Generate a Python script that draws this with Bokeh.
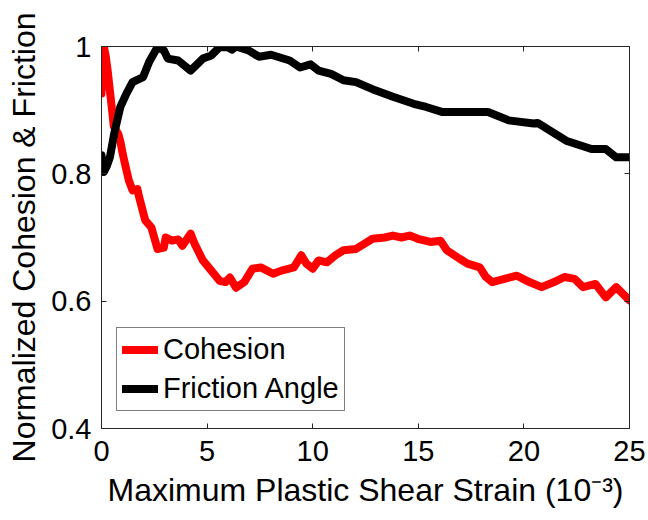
from bokeh.plotting import figure
from bokeh.models import (LinearAxis, FixedTicker, CustomJSTickFormatter, Legend,
                          LegendItem, Range1d)
from bokeh.embed import file_html
from bokeh.resources import INLINE

# ---- data ----
strain_cohesion = [0.0, 0.05, 0.11, 0.2, 0.3, 0.4, 0.5, 0.58, 0.66, 0.8, 0.9, 1.0,
                   1.15, 1.29, 1.47, 1.7, 1.77, 2.07, 2.36, 2.65, 2.95, 3.04, 3.34,
                   3.63, 3.83, 4.22, 4.41, 4.8, 5.2, 5.59, 5.87, 6.08, 6.37, 6.76,
                   7.15, 7.54, 8.13, 8.52, 9.11, 9.46, 9.7, 10.0, 10.28, 10.67,
                   11.07, 11.46, 12.05, 12.44, 12.83, 13.41, 13.8, 14.2, 14.59,
                   14.98, 15.57, 16.05, 16.35, 16.94, 17.33, 17.91, 18.2, 18.5,
                   19.08, 19.67, 20.26, 20.84, 21.43, 21.92, 22.4, 22.8, 23.39,
                   23.88, 24.37, 25.0]
cohesion = [0.926, 0.97, 1.0, 0.985, 0.96, 0.93, 0.9, 0.875, 0.87, 0.862, 0.85, 0.832,
            0.81, 0.79, 0.774, 0.776, 0.765, 0.727, 0.716, 0.682, 0.684, 0.70, 0.695,
            0.697, 0.687, 0.706, 0.69, 0.664, 0.648, 0.632, 0.63, 0.637, 0.621, 0.63,
            0.651, 0.653, 0.643, 0.648, 0.653, 0.672, 0.659, 0.651, 0.664, 0.661,
            0.672, 0.68, 0.682, 0.69, 0.698, 0.70, 0.703, 0.70, 0.703, 0.698, 0.693,
            0.695, 0.68, 0.667, 0.659, 0.653, 0.638, 0.63, 0.635, 0.64, 0.63, 0.622,
            0.63, 0.638, 0.635, 0.622, 0.627, 0.606, 0.622, 0.601]

strain_friction = [0.0, 0.11, 0.25, 0.4, 0.6, 0.89, 1.18, 1.47, 1.97, 2.26, 2.65,
                   2.95, 3.14, 3.63, 4.22, 4.8, 5.2, 5.59, 5.97, 6.17, 6.37, 6.96,
                   7.45, 8.03, 8.91, 9.4, 9.9, 10.28, 10.87, 11.46, 12.05, 12.83,
                   13.8, 14.78, 15.37, 16.15, 17.33, 18.3, 19.28, 20.46, 20.65,
                   22.0, 23.2, 23.88, 24.37, 25.0]
friction = [0.829, 0.803, 0.812, 0.826, 0.863, 0.905, 0.926, 0.944, 0.952, 0.976,
            0.999, 0.994, 0.981, 0.978, 0.962, 0.981, 0.986, 0.999, 0.999, 0.995,
            1.0, 0.994, 0.984, 0.987, 0.978, 0.967, 0.972, 0.962, 0.957, 0.947,
            0.944, 0.933, 0.921, 0.91, 0.905, 0.897, 0.897, 0.897, 0.884, 0.879,
            0.88, 0.852, 0.839, 0.839, 0.826, 0.826]

x_ticks = [0, 5, 10, 15, 20, 25]
y_ticks = [0.4, 0.6, 0.8, 1.0]
series_names = ["Cohesion", "Friction Angle"]
x_label = "Maximum Plastic Shear Strain (10\u207b\u00b3)"
y_label = "Normalized Cohesion & Friction"

FONT = "Liberation Sans"
AX = "#262626"

p = figure(width=648, height=520, output_backend="svg", toolbar_location=None,
           x_range=Range1d(0, 25), y_range=Range1d(0.4, 1.0),
           min_border_left=101, min_border_right=19, min_border_top=46,
           min_border_bottom=92)
p.background_fill_color = "white"
p.border_fill_color = "white"
p.outline_line_color = None
p.xgrid.visible = False
p.ygrid.visible = False

r_coh = p.line(strain_cohesion, cohesion, line_color="#ff0000", line_width=8,
               line_join="round", line_cap="round")
r_fri = p.line(strain_friction, friction, line_color="black", line_width=8,
               line_join="round", line_cap="round")

yfmt = CustomJSTickFormatter(code="return tick > 0.999 ? '1' : tick.toFixed(1);")
blank = CustomJSTickFormatter(code="return '';")

def style(ax, ticks, fmt, labels=True):
    ax.ticker = FixedTicker(ticks=ticks)
    ax.formatter = fmt
    ax.axis_line_color = AX
    ax.axis_line_width = 1
    ax.major_tick_line_color = AX
    ax.major_tick_in = 5
    ax.major_tick_out = 0
    ax.minor_tick_line_color = None
    ax.major_label_text_font = FONT
    ax.major_label_text_color = "black"
    if labels:
        ax.major_label_text_font_size = "29px"
    else:
        ax.major_label_text_font_size = "0px"
        ax.major_label_standoff = 0

style(p.xaxis[0], x_ticks, p.xaxis[0].formatter)
style(p.yaxis[0], y_ticks, yfmt)
p.xaxis[0].major_label_standoff = 12
p.yaxis[0].major_label_standoff = 10
p.xaxis[0].axis_label = x_label
p.yaxis[0].axis_label = y_label
for ax in (p.xaxis[0], p.yaxis[0]):
    ax.axis_label_text_font = FONT
    ax.axis_label_text_font_size = "32px"
    ax.axis_label_text_font_style = "normal"
    ax.axis_label_text_color = "black"
p.xaxis[0].axis_label_standoff = 8
p.yaxis[0].axis_label_standoff = 6

top = LinearAxis()
right = LinearAxis()
style(top, x_ticks, blank, labels=False)
style(right, y_ticks, blank, labels=False)
p.add_layout(top, "above")
p.add_layout(right, "right")

legend = Legend(items=[LegendItem(label=series_names[0], renderers=[r_coh]),
                       LegendItem(label=series_names[1], renderers=[r_fri])],
                location=(15, 17))
legend.label_text_font = FONT
legend.label_text_font_size = "29px"
legend.label_text_color = "black"
legend.glyph_width = 36
legend.glyph_height = 33
legend.label_height = 33
legend.label_standoff = 5
legend.spacing = 6
legend.padding = 5
legend.margin = 0
legend.border_line_color = "black"
legend.border_line_width = 1
legend.background_fill_color = "white"
legend.background_fill_alpha = 1
p.add_layout(legend, "center")

open("out.html", "w").write(file_html(p, INLINE))
